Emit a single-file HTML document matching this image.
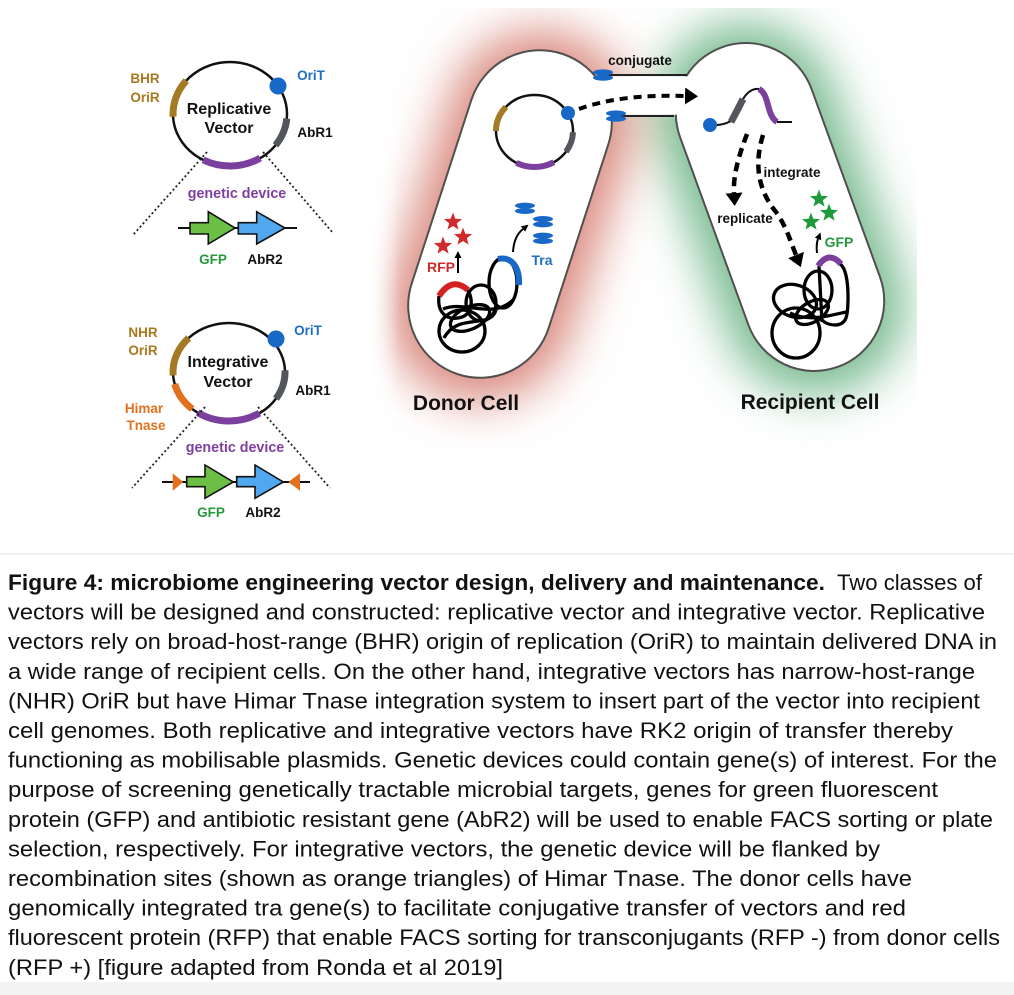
<!DOCTYPE html>
<html><head><meta charset="utf-8">
<style>
html,body{margin:0;padding:0;background:#fff;}
svg{display:block;}
text{font-family:"Liberation Sans",Arial,sans-serif;}
.lb{font-weight:bold;font-size:13.5px;}
.cap{font-size:22.5px;fill:#111;}
</style></head>
<body>
<svg width="1014" height="995" viewBox="0 0 1014 995" xmlns="http://www.w3.org/2000/svg">
<defs>
  <filter id="blur" x="-80%" y="-80%" width="260%" height="260%"><feGaussianBlur stdDeviation="24"/></filter>
  <linearGradient id="fadeL" x1="370" y1="0" x2="400" y2="0" gradientUnits="userSpaceOnUse">
    <stop offset="0" stop-color="#fff" stop-opacity="0"/>
    <stop offset="1" stop-color="#fff" stop-opacity="1"/>
  </linearGradient>
  <mask id="maskG" maskUnits="userSpaceOnUse" x="0" y="0" width="1014" height="995">
    <rect x="370" y="8" width="547" height="440" fill="url(#fadeL)"/>
  </mask>
  <path id="star" d="M0,-10 L2.47,-3.4 9.51,-3.09 3.99,1.3 5.88,8.09 0,4.2 -5.88,8.09 -3.99,1.3 -9.51,-3.09 -2.47,-3.4Z"/>
  <marker id="bigHead" viewBox="0 0 13 17" refX="0" refY="8.5" markerWidth="13" markerHeight="17" markerUnits="userSpaceOnUse" orient="auto">
    <path d="M0,0 L13,8.5 L0,17 Z" fill="#000"/>
  </marker>
  <marker id="smHead" viewBox="0 0 8 8" refX="0" refY="4" markerWidth="7" markerHeight="7" markerUnits="userSpaceOnUse" orient="auto">
    <path d="M0,0 L8,4 L0,8 Z" fill="#000"/>
  </marker>
</defs>

<!-- ============ LEFT: Replicative vector ============ -->
<g fill="none">
  <ellipse cx="230" cy="114" rx="57" ry="52" stroke="#111" stroke-width="2.5"/>
  <path d="M173.1 116.7 A57 52 0 0 1 186.3 80.6" stroke="#a57a24" stroke-width="7"/>
  <path d="M286.8 118.5 A57 52 0 0 1 275.5 145.3" stroke="#53575c" stroke-width="7"/>
  <path d="M260.2 158.1 A57 52 0 0 1 203.2 159.9" stroke="#7b3f9e" stroke-width="7"/>
  <path d="M207 152 L133 235 M263 152 L333 233" stroke="#222" stroke-width="1.8" stroke-dasharray="2 2.5"/>
  <path d="M178 228 H297" stroke="#111" stroke-width="2"/>
</g>
<circle cx="278" cy="86" r="8.5" fill="#1868c8"/>
<polygon points="190,222.7 208.3,222.7 208.3,211.7 235,228 208.3,244 208.3,234 190,234" fill="#6cbf45" stroke="#111" stroke-width="1.6"/>
<polygon points="238.3,222.7 256.7,222.7 256.7,211.7 285,228 256.7,244 256.7,234 238.3,234" fill="#52a8ef" stroke="#111" stroke-width="1.6"/>
<text class="lb" x="145" y="83" text-anchor="middle" fill="#a8781f">BHR</text>
<text class="lb" x="145" y="102" text-anchor="middle" fill="#a8781f">OriR</text>
<text x="229" y="114" text-anchor="middle" font-weight="bold" font-size="16" fill="#111">Replicative</text>
<text x="229" y="133" text-anchor="middle" font-weight="bold" font-size="16" fill="#111">Vector</text>
<text class="lb" x="311" y="80" text-anchor="middle" fill="#1f6fc7">OriT</text>
<text class="lb" x="315" y="137" text-anchor="middle" fill="#111">AbR1</text>
<text x="237" y="198" text-anchor="middle" font-weight="bold" font-size="14.3" fill="#7f3f9f">genetic device</text>
<text class="lb" x="213" y="264" text-anchor="middle" fill="#259a3a">GFP</text>
<text class="lb" x="265" y="264" text-anchor="middle" fill="#111">AbR2</text>

<!-- ============ LEFT: Integrative vector ============ -->
<g fill="none">
  <ellipse cx="229" cy="372" rx="56" ry="49" stroke="#111" stroke-width="2.5"/>
  <path d="M173.1 375.4 A56 49 0 0 1 188.7 338.0" stroke="#a57a24" stroke-width="7"/>
  <path d="M192.3 409.0 A56 49 0 0 1 174.7 383.9" stroke="#e2701f" stroke-width="7"/>
  <path d="M259.5 413.1 A56 49 0 0 1 197.7 412.6" stroke="#7b3f9e" stroke-width="7"/>
  <path d="M285.0 370.3 A56 49 0 0 1 276.0 398.7" stroke="#53575c" stroke-width="7"/>
  <path d="M205 407 L132 488 M258 407 L330 488" stroke="#222" stroke-width="1.8" stroke-dasharray="2 2.5"/>
  <path d="M162 482 H310" stroke="#111" stroke-width="2"/>
</g>
<circle cx="276" cy="339" r="8.5" fill="#1868c8"/>
<polygon points="172.7,473.3 183.3,482 172.7,490.7" fill="#e2701f"/>
<polygon points="300,473.3 288.3,482 300,490.7" fill="#e2701f"/>
<polygon points="186.7,476.7 205,476.7 205,465 233.3,482 205,498.3 205,486.7 186.7,486.7" fill="#6cbf45" stroke="#111" stroke-width="1.6"/>
<polygon points="236.7,476.7 255,476.7 255,465 283.3,482 255,498.3 255,486.7 236.7,486.7" fill="#52a8ef" stroke="#111" stroke-width="1.6"/>
<text class="lb" x="143" y="337" text-anchor="middle" fill="#a8781f">NHR</text>
<text class="lb" x="143" y="355" text-anchor="middle" fill="#a8781f">OriR</text>
<text class="lb" x="144" y="413" text-anchor="middle" fill="#e2701f">Himar</text>
<text class="lb" x="146" y="430" text-anchor="middle" fill="#e2701f">Tnase</text>
<text x="228" y="367" text-anchor="middle" font-weight="bold" font-size="16" fill="#111">Integrative</text>
<text x="228" y="387" text-anchor="middle" font-weight="bold" font-size="16" fill="#111">Vector</text>
<text class="lb" x="308" y="335" text-anchor="middle" fill="#1f6fc7">OriT</text>
<text class="lb" x="313" y="395" text-anchor="middle" fill="#111">AbR1</text>
<text x="235" y="452" text-anchor="middle" font-weight="bold" font-size="14.3" fill="#7f3f9f">genetic device</text>
<text class="lb" x="211" y="517" text-anchor="middle" fill="#259a3a">GFP</text>
<text class="lb" x="263" y="517" text-anchor="middle" fill="#111">AbR2</text>

<!-- ============ RIGHT: cells ============ -->
<g mask="url(#maskG)">
  <g filter="url(#blur)">
    <rect x="-92" y="-190" width="184" height="380" rx="92" transform="translate(510,216) rotate(18)" fill="#cf6b5d" opacity="0.8"/>
    <rect x="-90" y="-192" width="180" height="384" rx="90" transform="translate(780,209) rotate(-20)" fill="#4fa66e" opacity="0.78"/>
  </g>
</g>
<rect x="-72" y="-168.5" width="144" height="337" rx="72" transform="translate(510,214) rotate(18)" fill="#fff" stroke="#505050" stroke-width="2"/>
<rect x="-70" y="-170" width="140" height="340" rx="70" transform="translate(780,207) rotate(-20)" fill="#fff" stroke="#505050" stroke-width="2"/>
<!-- bridge -->
<rect x="588" y="76.3" width="104" height="38.4" fill="#fff"/>
<path d="M598 75 H687 M614 116 H674" stroke="#222" stroke-width="2" fill="none"/>
<g fill="#1868c8">
  <ellipse cx="603" cy="72.4" rx="10" ry="3"/><ellipse cx="603" cy="77.8" rx="10" ry="3"/>
  <ellipse cx="616" cy="113.4" rx="10" ry="3"/><ellipse cx="616" cy="118.8" rx="10" ry="3"/>
</g>
<text x="640" y="65" text-anchor="middle" font-weight="bold" font-size="13.5" fill="#111">conjugate</text>

<!-- donor plasmid -->
<g fill="none">
  <ellipse cx="534.5" cy="131" rx="38.5" ry="36" stroke="#111" stroke-width="2.5"/>
  <path d="M496 131 A38.5 36 0 0 1 505.9 106.9" stroke="#a57a24" stroke-width="6"/>
  <path d="M573 132.3 A38.5 36 0 0 1 566 151.7" stroke="#53575c" stroke-width="6"/>
  <path d="M553.8 162.2 A38.5 36 0 0 1 516.4 162.8" stroke="#7b3f9e" stroke-width="6"/>
</g>
<circle cx="568" cy="113" r="7" fill="#1868c8"/>
<path d="M579 109 Q620 94 685 96" fill="none" stroke="#000" stroke-width="4" stroke-dasharray="8 6" marker-end="url(#bigHead)"/>

<!-- donor genome -->
<g fill="none" stroke="#000" stroke-width="3.3">
  <ellipse cx="462" cy="331" rx="23" ry="21"/>
  <ellipse cx="481" cy="303" rx="15" ry="18"/>
  <ellipse cx="503" cy="283" rx="14" ry="25"/>
  <path d="M439 296 C437 312 446 320 458 318 C472 316 474 302 468 290"/>
  <path d="M443 309 C465 300 492 320 513 300"/>
  <ellipse cx="470" cy="318" rx="21" ry="11" transform="rotate(-25 470 318)"/>
  <path d="M444 338 C458 312 490 330 496 310"/>
</g>
<path d="M439 296 Q452 276 468 290" fill="none" stroke="#d42222" stroke-width="6"/>
<path d="M498 259 C512 256 520 268 519 285" fill="none" stroke="#1868c8" stroke-width="6"/>
<g fill="#d02a2a">
  <use href="#star" transform="translate(453,222) scale(0.95)"/>
  <use href="#star" transform="translate(463,237) scale(0.95)"/>
  <use href="#star" transform="translate(443,246) scale(0.95)"/>
</g>
<path d="M458 273 L458 258" fill="none" stroke="#000" stroke-width="2" marker-end="url(#smHead)"/>
<text x="441" y="272" text-anchor="middle" font-weight="bold" font-size="14" fill="#d02a2a">RFP</text>
<path d="M513 252 Q514 236 523 229" fill="none" stroke="#000" stroke-width="2" marker-end="url(#smHead)"/>
<text x="542" y="265" text-anchor="middle" font-weight="bold" font-size="14" fill="#1f6fc7">Tra</text>
<g fill="#1868c8">
  <ellipse cx="525" cy="205.6" rx="10" ry="3"/><ellipse cx="525" cy="211" rx="10" ry="3"/>
  <ellipse cx="543" cy="219" rx="10" ry="3"/><ellipse cx="543" cy="224.4" rx="10" ry="3"/>
  <ellipse cx="543" cy="235.6" rx="10" ry="3"/><ellipse cx="543" cy="241" rx="10" ry="3"/>
</g>
<text x="466" y="410" text-anchor="middle" font-weight="bold" font-size="21" fill="#111">Donor Cell</text>

<!-- recipient contents -->
<path d="M710 125 Q722 126 731 121" fill="none" stroke="#111" stroke-width="2"/>
<path d="M731 122 Q737 111 743 99" fill="none" stroke="#53575c" stroke-width="7"/>
<path d="M743 99 Q750 88 759 89" fill="none" stroke="#111" stroke-width="2"/>
<path d="M759 89 C770 95 766 115 777 122" fill="none" stroke="#7b3f9e" stroke-width="6"/>
<path d="M777 122 L792 122" fill="none" stroke="#111" stroke-width="2"/>
<circle cx="710" cy="125" r="7" fill="#1868c8"/>
<path d="M747 134 C739 155 733 175 734 193" fill="none" stroke="#000" stroke-width="4.5" stroke-dasharray="9 6" marker-end="url(#bigHead)"/>
<path d="M763 135 C752 170 762 195 776 212 C786 226 790 240 796 255" fill="none" stroke="#000" stroke-width="4.5" stroke-dasharray="9 6" marker-end="url(#bigHead)"/>
<text x="792" y="177" text-anchor="middle" font-weight="bold" font-size="13.5" fill="#111">integrate</text>
<text x="745" y="223" text-anchor="middle" font-weight="bold" font-size="13.5" fill="#111">replicate</text>
<g fill="#1f9a3a">
  <use href="#star" transform="translate(819,199) scale(0.95)"/>
  <use href="#star" transform="translate(829,213) scale(0.95)"/>
  <use href="#star" transform="translate(811,222) scale(0.95)"/>
</g>
<path d="M817 253 Q816 244 818 239" fill="none" stroke="#000" stroke-width="2" marker-end="url(#smHead)"/>
<text x="839" y="247" text-anchor="middle" font-weight="bold" font-size="14" fill="#259a3a">GFP</text>
<g fill="none" stroke="#000" stroke-width="3.3">
  <path d="M819 266 L822 322"/>
  <path d="M840 264 C850 270 849 310 846 318 C842 328 828 326 822 320"/>
  <ellipse cx="818" cy="290" rx="14" ry="19"/>
  <ellipse cx="795" cy="301" rx="22" ry="16" transform="rotate(18 795 301)"/>
  <ellipse cx="796" cy="333" rx="24" ry="25"/>
  <path d="M790 313 C808 322 828 316 846 312"/>
  <ellipse cx="812" cy="312" rx="18" ry="10" transform="rotate(-30 812 312)"/>
</g>
<path d="M818 266 Q829 250 841 264" fill="none" stroke="#7b3f9e" stroke-width="6"/>
<text x="810" y="409" text-anchor="middle" font-weight="bold" font-size="21" fill="#111">Recipient Cell</text>

<!-- ============ caption ============ -->
<line x1="0" y1="554" x2="1014" y2="554" stroke="#ececec" stroke-width="1.5"/>
<text class="cap" x="8" y="590" textLength="817" lengthAdjust="spacingAndGlyphs" font-weight="bold">Figure 4: microbiome engineering vector design, delivery and maintenance.</text>
<text class="cap" x="837" y="590" textLength="145" lengthAdjust="spacingAndGlyphs">Two classes of</text>
<text class="cap" x="8" y="619.6" textLength="977" lengthAdjust="spacingAndGlyphs">vectors will be designed and constructed: replicative vector and integrative vector. Replicative</text>
<text class="cap" x="8" y="649.2" textLength="989" lengthAdjust="spacingAndGlyphs">vectors rely on broad-host-range (BHR) origin of replication (OriR) to maintain delivered DNA in</text>
<text class="cap" x="8" y="678.8" textLength="967" lengthAdjust="spacingAndGlyphs">a wide range of recipient cells. On the other hand,  integrative vectors has narrow-host-range</text>
<text class="cap" x="8" y="708.4" textLength="972" lengthAdjust="spacingAndGlyphs">(NHR) OriR but have Himar Tnase integration system to insert part of the vector into recipient</text>
<text class="cap" x="8" y="738" textLength="945" lengthAdjust="spacingAndGlyphs">cell genomes.  Both replicative and integrative vectors have RK2 origin of transfer thereby</text>
<text class="cap" x="8" y="767.6" textLength="989" lengthAdjust="spacingAndGlyphs">functioning as mobilisable plasmids. Genetic devices could contain gene(s) of interest. For the</text>
<text class="cap" x="8" y="797.2" textLength="930" lengthAdjust="spacingAndGlyphs">purpose of screening genetically tractable microbial targets,  genes for green fluorescent</text>
<text class="cap" x="8" y="826.8" textLength="985" lengthAdjust="spacingAndGlyphs">protein (GFP) and antibiotic resistant gene (AbR2)  will be used to enable FACS sorting or plate</text>
<text class="cap" x="8" y="856.4" textLength="872" lengthAdjust="spacingAndGlyphs">selection, respectively. For integrative vectors, the genetic device will be flanked by</text>
<text class="cap" x="8" y="886" textLength="904" lengthAdjust="spacingAndGlyphs">recombination sites  (shown as orange triangles)  of Himar Tnase. The donor cells have</text>
<text class="cap" x="8" y="915.6" textLength="898" lengthAdjust="spacingAndGlyphs">genomically integrated tra gene(s) to facilitate conjugative transfer of vectors and red</text>
<text class="cap" x="8" y="945.2" textLength="992" lengthAdjust="spacingAndGlyphs">fluorescent protein (RFP) that enable FACS sorting for transconjugants (RFP -) from donor cells</text>
<text class="cap" x="8" y="974.8" textLength="495" lengthAdjust="spacingAndGlyphs">(RFP +)  [figure adapted from Ronda et al 2019]</text>
<rect x="0" y="982" width="1014" height="13" fill="#f4f4f4"/>
</svg>
</body></html>
